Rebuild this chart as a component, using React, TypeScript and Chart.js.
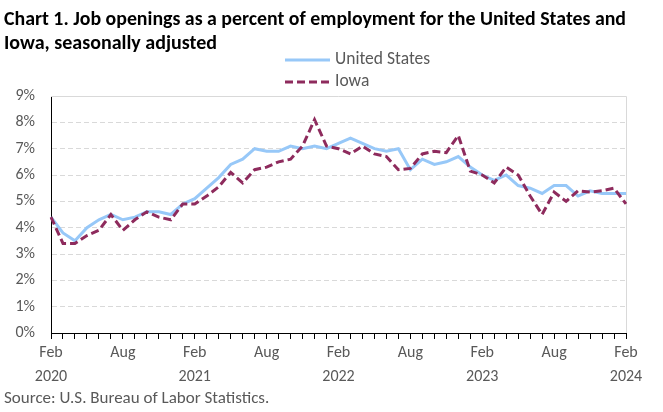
import React, { useEffect, useRef } from 'react';
import { Chart, registerables } from 'chart.js';

Chart.register(...registerables);

const FONT = 'Carlito, Lato, "Liberation Sans", sans-serif';

const monthNames = ['Jan', 'Feb', 'Mar', 'Apr', 'May', 'Jun', 'Jul', 'Aug', 'Sep', 'Oct', 'Nov', 'Dec'];
const startYear = 2020;
const startMonthIndex = 1; // Feb
const monthCount = 49; // Feb 2020 .. Feb 2024

const categories: string[] = [];
for (let i = 0; i < monthCount; i++) {
  const m = (startMonthIndex + i) % 12;
  const y = startYear + Math.floor((startMonthIndex + i) / 12);
  categories.push(`${monthNames[m]} ${y}`);
}

const seriesNames = ['United States', 'Iowa'];

const usValues = [
  4.4, 3.8, 3.5, 4.0, 4.3, 4.5, 4.3, 4.4, 4.6, 4.6, 4.5,
  4.9, 5.1, 5.5, 5.9, 6.4, 6.6, 7.0, 6.9, 6.9, 7.1, 7.0, 7.1,
  7.0, 7.2, 7.4, 7.2, 7.0, 6.9, 7.0, 6.2, 6.6, 6.4, 6.5, 6.7,
  6.3, 6.0, 5.8, 6.0, 5.6, 5.5, 5.3, 5.6, 5.6, 5.2, 5.4, 5.3,
  5.3, 5.3,
];

const iowaValues = [
  4.4, 3.4, 3.4, 3.7, 3.9, 4.5, 3.9, 4.3, 4.6, 4.4, 4.3,
  4.9, 4.9, 5.2, 5.55, 6.1, 5.7, 6.2, 6.3, 6.5, 6.6, 7.1, 8.1,
  7.1, 7.0, 6.8, 7.1, 6.8, 6.7, 6.2, 6.25, 6.8, 6.9, 6.85, 7.5,
  6.15, 6.0, 5.7, 6.3, 6.0, 5.2, 4.5, 5.35, 5.0, 5.4, 5.35, 5.4,
  5.5, 4.9,
];

const yMin = 0;
const yMax = 9;
const yStep = 1;

const titleLines = [
  'Chart 1. Job openings as a percent of employment for the United States and',
  'Iowa, seasonally adjusted',
];
const sourceText = 'Source: U.S. Bureau of Labor Statistics.';

const US_COLOR = '#97C8F8';
const IOWA_COLOR = '#8E2B5D';
const TEXT_GRAY = '#595959';
const GRID_GRAY = '#d9d9d9';

export default function App() {
  const ref = useRef<HTMLCanvasElement>(null);

  useEffect(() => {
    document.body.style.margin = '0';
    const canvas = ref.current;
    if (!canvas) return;

    const frameAndLegend = {
      id: 'frameAndLegend',
      beforeDatasetsDraw(chart: any) {
        const { ctx, chartArea } = chart;
        ctx.save();
        ctx.strokeStyle = GRID_GRAY;
        ctx.lineWidth = 1;
        ctx.setLineDash([]);
        ctx.beginPath();
        ctx.moveTo(chartArea.left, chartArea.top + 0.5);
        ctx.lineTo(chartArea.right + 0.5, chartArea.top + 0.5);
        ctx.lineTo(chartArea.right + 0.5, chartArea.bottom);
        ctx.stroke();
        ctx.restore();
      },
      afterDraw(chart: any) {
        const { ctx } = chart;
        ctx.save();
        chart.data.datasets.forEach((ds: any, i: number) => {
          const y = 60 + i * 22;
          ctx.strokeStyle = ds.borderColor;
          ctx.lineWidth = ds.borderWidth;
          ctx.setLineDash(ds.borderDash || []);
          ctx.beginPath();
          ctx.moveTo(285, y);
          ctx.lineTo(330, y);
          ctx.stroke();
          ctx.setLineDash([]);
          ctx.fillStyle = TEXT_GRAY;
          ctx.font = `17.5px ${FONT}`;
          ctx.textBaseline = 'middle';
          ctx.textAlign = 'left';
          ctx.fillText(ds.label, 335, y);
        });
        ctx.restore();
      },
    };

    const chart = new Chart(canvas, {
      type: 'line',
      data: {
        labels: categories,
        datasets: [
          {
            label: seriesNames[0],
            data: usValues,
            borderColor: US_COLOR,
            backgroundColor: US_COLOR,
            borderWidth: 3,
            pointRadius: 0,
            tension: 0,
            order: 1,
          },
          {
            label: seriesNames[1],
            data: iowaValues,
            borderColor: IOWA_COLOR,
            backgroundColor: IOWA_COLOR,
            borderWidth: 3,
            borderDash: [8, 4],
            pointRadius: 0,
            tension: 0,
            order: 0,
          },
        ],
      },
      options: {
        responsive: false,
        animation: false,
        devicePixelRatio: 1,
        layout: { padding: { left: 4, right: 37, top: 0, bottom: 0 } },
        plugins: {
          legend: { display: false },
          tooltip: { enabled: false },
          title: {
            display: true,
            text: titleLines,
            align: 'start',
            color: '#000',
            font: { family: FONT, size: 20, weight: 'bold', lineHeight: 1.2 },
            padding: { top: 8, bottom: 40 },
          },
          subtitle: {
            display: true,
            text: sourceText,
            position: 'bottom',
            align: 'start',
            color: TEXT_GRAY,
            font: { family: FONT, size: 17, lineHeight: 16 / 17 },
            padding: { top: 0, bottom: 5 },
          },
        },
        scales: {
          x: {
            type: 'category',
            grid: {
              drawOnChartArea: false,
              drawTicks: true,
              tickLength: 6,
              tickColor: '#000',
            },
            border: { display: true, color: '#000', width: 1 },
            ticks: {
              autoSkip: false,
              maxRotation: 0,
              minRotation: 0,
              padding: 2,
              color: TEXT_GRAY,
              font: { family: FONT, size: 16, lineHeight: 1.5 },
              callback: (_v: any, index: number) => {
                if (index % 6 !== 0) return '';
                const [m, y] = categories[index].split(' ');
                return m === 'Feb' ? [m, y] : m;
              },
            },
          },
          y: {
            min: yMin,
            max: yMax,
            grid: {
              drawTicks: false,
              color: GRID_GRAY,
              lineWidth: 1,
            },
            border: { display: true, color: '#000', width: 1, dash: [5, 3] },
            ticks: {
              stepSize: yStep,
              padding: 16,
              color: TEXT_GRAY,
              font: { family: FONT, size: 16 },
              callback: (v: any) => `${v}%`,
            },
            afterFit: (scale: any) => {
              scale.width = 47;
            },
          },
        },
      },
      plugins: [frameAndLegend],
    });

    return () => chart.destroy();
  }, []);

  return (
    <div style={{ width: 663, height: 412 }}>
      <canvas ref={ref} width={663} height={412} style={{ display: 'block' }} />
    </div>
  );
}
